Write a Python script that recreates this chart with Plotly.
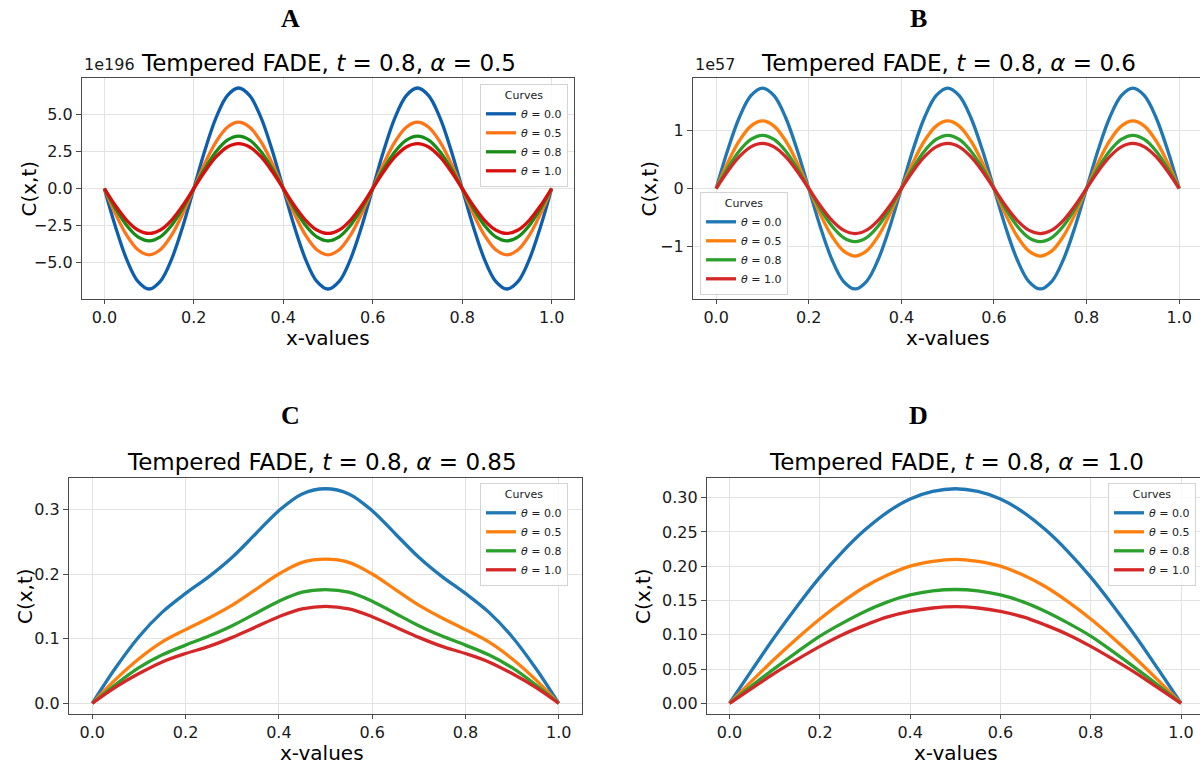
import plotly.graph_objects as go

W, H = 1200, 766

# x grids
X_SINE = [0.0, 0.025, 0.05, 0.075, 0.1, 0.125, 0.15, 0.175, 0.2, 0.225,
          0.25, 0.275, 0.3, 0.325, 0.35, 0.375, 0.4, 0.425, 0.45, 0.475,
          0.5, 0.525, 0.55, 0.575, 0.6, 0.625, 0.65, 0.675, 0.7, 0.725,
          0.75, 0.775, 0.8, 0.825, 0.85, 0.875, 0.9, 0.925, 0.95, 0.975, 1.0]
X_BUMP = [0.0, 0.05, 0.1, 0.15, 0.2, 0.25, 0.3, 0.35, 0.4, 0.45, 0.5,
          0.55, 0.6, 0.65, 0.7, 0.75, 0.8, 0.85, 0.9, 0.95, 1.0]

THETAS = ["0.0", "0.5", "0.8", "1.0"]

# Panel A: alpha = 0.5 (values in units of 1e196)
A_T00 = [0, -2.612, -4.822, -6.302, -6.82, -6.302, -4.822, -2.612,
         0, 2.612, 4.822, 6.302, 6.82, 6.302, 4.822, 2.612,
         0, -2.612, -4.822, -6.302, -6.82, -6.302, -4.822, -2.612,
         0, 2.612, 4.822, 6.302, 6.82, 6.302, 4.822, 2.612,
         0, -2.612, -4.822, -6.302, -6.82, -6.302, -4.822, -2.612, 0]
A_T05 = [0, -1.724, -3.182, -4.158, -4.50, -4.158, -3.182, -1.724,
         0, 1.724, 3.182, 4.158, 4.50, 4.158, 3.182, 1.724,
         0, -1.724, -3.182, -4.158, -4.50, -4.158, -3.182, -1.724,
         0, 1.724, 3.182, 4.158, 4.50, 4.158, 3.182, 1.724,
         0, -1.724, -3.182, -4.158, -4.50, -4.158, -3.182, -1.724, 0]
A_T08 = [0, -1.360, -2.510, -3.280, -3.55, -3.280, -2.510, -1.360,
         0, 1.360, 2.510, 3.280, 3.55, 3.280, 2.510, 1.360,
         0, -1.360, -2.510, -3.280, -3.55, -3.280, -2.510, -1.360,
         0, 1.360, 2.510, 3.280, 3.55, 3.280, 2.510, 1.360,
         0, -1.360, -2.510, -3.280, -3.55, -3.280, -2.510, -1.360, 0]
A_T10 = [0, -1.168, -2.156, -2.818, -3.05, -2.818, -2.156, -1.168,
         0, 1.168, 2.156, 2.818, 3.05, 2.818, 2.156, 1.168,
         0, -1.168, -2.156, -2.818, -3.05, -2.818, -2.156, -1.168,
         0, 1.168, 2.156, 2.818, 3.05, 2.818, 2.156, 1.168,
         0, -1.168, -2.156, -2.818, -3.05, -2.818, -2.156, -1.168, 0]

# Panel B: alpha = 0.6 (values in units of 1e57)
B_T00 = [0, 0.666, 1.230, 1.608, 1.74, 1.608, 1.230, 0.666,
         0, -0.666, -1.230, -1.608, -1.74, -1.608, -1.230, -0.666,
         0, 0.666, 1.230, 1.608, 1.74, 1.608, 1.230, 0.666,
         0, -0.666, -1.230, -1.608, -1.74, -1.608, -1.230, -0.666,
         0, 0.666, 1.230, 1.608, 1.74, 1.608, 1.230, 0.666, 0]
B_T05 = [0, 0.448, 0.827, 1.081, 1.17, 1.081, 0.827, 0.448,
         0, -0.448, -0.827, -1.081, -1.17, -1.081, -0.827, -0.448,
         0, 0.448, 0.827, 1.081, 1.17, 1.081, 0.827, 0.448,
         0, -0.448, -0.827, -1.081, -1.17, -1.081, -0.827, -0.448,
         0, 0.448, 0.827, 1.081, 1.17, 1.081, 0.827, 0.448, 0]
B_T08 = [0, 0.352, 0.650, 0.850, 0.92, 0.850, 0.650, 0.352,
         0, -0.352, -0.650, -0.850, -0.92, -0.850, -0.650, -0.352,
         0, 0.352, 0.650, 0.850, 0.92, 0.850, 0.650, 0.352,
         0, -0.352, -0.650, -0.850, -0.92, -0.850, -0.650, -0.352,
         0, 0.352, 0.650, 0.850, 0.92, 0.850, 0.650, 0.352, 0]
B_T10 = [0, 0.299, 0.551, 0.721, 0.78, 0.721, 0.551, 0.299,
         0, -0.299, -0.551, -0.721, -0.78, -0.721, -0.551, -0.299,
         0, 0.299, 0.551, 0.721, 0.78, 0.721, 0.551, 0.299,
         0, -0.299, -0.551, -0.721, -0.78, -0.721, -0.551, -0.299,
         0, 0.299, 0.551, 0.721, 0.78, 0.721, 0.551, 0.299, 0]

# Panel C: alpha = 0.85
C_T00 = [0, 0.055, 0.103, 0.141, 0.170, 0.196, 0.226, 0.262, 0.298, 0.324, 0.332,
         0.324, 0.298, 0.262, 0.226, 0.196, 0.170, 0.141, 0.103, 0.055, 0]
C_T05 = [0, 0.037, 0.069, 0.095, 0.114, 0.132, 0.152, 0.176, 0.200, 0.218, 0.223,
         0.218, 0.200, 0.176, 0.152, 0.132, 0.114, 0.095, 0.069, 0.037, 0]
C_T08 = [0, 0.029, 0.055, 0.075, 0.090, 0.104, 0.120, 0.139, 0.158, 0.172, 0.176,
         0.172, 0.158, 0.139, 0.120, 0.104, 0.090, 0.075, 0.055, 0.029, 0]
C_T10 = [0, 0.025, 0.046, 0.064, 0.077, 0.088, 0.102, 0.118, 0.134, 0.146, 0.150,
         0.146, 0.134, 0.118, 0.102, 0.088, 0.077, 0.064, 0.046, 0.025, 0]

# Panel D: alpha = 1.0
D_T00 = [0, 0.049, 0.097, 0.142, 0.184, 0.221, 0.253, 0.279, 0.298, 0.309, 0.313,
         0.309, 0.298, 0.279, 0.253, 0.221, 0.184, 0.142, 0.097, 0.049, 0]
D_T05 = [0, 0.033, 0.065, 0.095, 0.123, 0.148, 0.170, 0.187, 0.200, 0.207, 0.210,
         0.207, 0.200, 0.187, 0.170, 0.148, 0.123, 0.095, 0.065, 0.033, 0]
D_T08 = [0, 0.026, 0.051, 0.075, 0.098, 0.117, 0.134, 0.148, 0.158, 0.164, 0.166,
         0.164, 0.158, 0.148, 0.134, 0.117, 0.098, 0.075, 0.051, 0.026, 0]
D_T10 = [0, 0.022, 0.044, 0.064, 0.083, 0.100, 0.114, 0.126, 0.134, 0.139, 0.141,
         0.139, 0.134, 0.126, 0.114, 0.100, 0.083, 0.064, 0.044, 0.022, 0]

X_TICKS = [0.0, 0.2, 0.4, 0.6, 0.8, 1.0]
X_TICK_TEXT = ["0.0", "0.2", "0.4", "0.6", "0.8", "1.0"]

COLORS_A = ["#0d5fad", "#ff7418", "#178c17", "#d90f0f"]
COLORS_TAB = ["#1f77b4", "#ff7f0e", "#2ca02c", "#d62728"]

SANS = "DejaVu Sans"
SERIF = "Liberation Serif"
SPINE = "#4a4a4a"
GRID = "#e2e2e2"


def fx(p):
    return p / W


def fy(p):
    return 1 - p / H


panels = [
    dict(letter="A", n="", box=(82, 574, 78, 299), xr=[-0.05, 1.05], yr=[-7.5, 7.5],
         yt=[-5, -2.5, 0, 2.5, 5], ytt=["−5.0", "−2.5", "0.0", "2.5", "5.0"],
         x=X_SINE, ys=[A_T00, A_T05, A_T08, A_T10], colors=COLORS_A, mirror_y=True,
         title="Tempered FADE, <i>t</i> = 0.8, <i>α</i> = 0.5", expo="1e196",
         letter_pos=(290, 18), title_pos=(328, 63), ylab_x=28, xlab_y=338,
         leg=dict(x=fx(568), y=fy(84), xanchor="right", yanchor="top")),
    dict(letter="B", n="2", box=(693, 1200, 78, 299), xr=[-0.05, 1.045], yr=[-1.914, 1.914],
         yt=[-1, 0, 1], ytt=["−1", "0", "1"],
         x=X_SINE, ys=[B_T00, B_T05, B_T08, B_T10], colors=COLORS_TAB, mirror_y=False,
         title="Tempered FADE, <i>t</i> = 0.8, <i>α</i> = 0.6", expo="1e57",
         letter_pos=(918, 18), title_pos=(948, 63), ylab_x=648, xlab_y=338,
         leg=dict(x=fx(700), y=fy(295), xanchor="left", yanchor="bottom")),
    dict(letter="C", n="3", box=(69, 582, 478, 714), xr=[-0.05, 1.05], yr=[-0.0166, 0.3486],
         yt=[0.0, 0.1, 0.2, 0.3], ytt=["0.0", "0.1", "0.2", "0.3"],
         x=X_BUMP, ys=[C_T00, C_T05, C_T08, C_T10], colors=COLORS_TAB, mirror_y=True,
         title="Tempered FADE, <i>t</i> = 0.8, <i>α</i> = 0.85", expo="",
         letter_pos=(290, 415), title_pos=(322, 462), ylab_x=25, xlab_y=753,
         leg=dict(x=fx(568), y=fy(483), xanchor="right", yanchor="top")),
    dict(letter="D", n="4", box=(707, 1200, 478, 714), xr=[-0.05, 1.042], yr=[-0.01565, 0.32865],
         yt=[0.0, 0.05, 0.10, 0.15, 0.20, 0.25, 0.30],
         ytt=["0.00", "0.05", "0.10", "0.15", "0.20", "0.25", "0.30"],
         x=X_BUMP, ys=[D_T00, D_T05, D_T08, D_T10], colors=COLORS_TAB, mirror_y=False,
         title="Tempered FADE, <i>t</i> = 0.8, <i>α</i> = 1.0", expo="",
         letter_pos=(918, 415), title_pos=(956, 462), ylab_x=643, xlab_y=753,
         leg=dict(x=fx(1196), y=fy(483), xanchor="right", yanchor="top")),
]

fig = go.Figure()
annotations = []
layout = {}

for p in panels:
    n = p["n"]
    legend_name = "legend" + n
    for theta, yv, col in zip(THETAS, p["ys"], p["colors"]):
        fig.add_trace(go.Scatter(
            x=p["x"], y=yv, mode="lines",
            line=dict(color=col, width=3.3, shape="spline", smoothing=1.0),
            name=f"<i>θ</i> = {theta}",
            xaxis="x" + n, yaxis="y" + n, legend=legend_name,
            hoverinfo="skip",
        ))

    x0, x1, y0, y1 = p["box"]
    layout["xaxis" + n] = dict(
        domain=[fx(x0), fx(x1)], range=p["xr"], anchor="y" + n,
        tickvals=X_TICKS, ticktext=X_TICK_TEXT,
        showgrid=True, gridcolor=GRID, gridwidth=1, zeroline=False,
        showline=True, linecolor=SPINE, linewidth=1.3, mirror=True,
        ticks="outside", ticklen=4, tickwidth=1.2, tickcolor=SPINE,
        tickfont=dict(family=SANS, size=16, color="#1a1a1a"),
    )
    layout["yaxis" + n] = dict(
        domain=[fy(y1), fy(y0)], range=p["yr"], anchor="x" + n,
        tickvals=p["yt"], ticktext=p["ytt"],
        showgrid=True, gridcolor=GRID, gridwidth=1, zeroline=False,
        showline=True, linecolor=SPINE, linewidth=1.3, mirror=p["mirror_y"],
        ticks="outside", ticklen=5, tickwidth=1.2, tickcolor=SPINE,
        tickfont=dict(family=SANS, size=16, color="#1a1a1a"),
    )
    layout[legend_name] = dict(
        **p["leg"],
        xref="paper", yref="paper",
        title=dict(text="Curves", side="top center",
                   font=dict(family=SANS, size=11, color="#222")),
        font=dict(family=SANS, size=11, color="#222"),
        bgcolor="rgba(255,255,255,0.85)", bordercolor="#d3d3d3", borderwidth=1,
        itemwidth=30, tracegroupgap=0,
    )

    lx, ly = p["letter_pos"]
    annotations.append(dict(
        text=f"<b>{p['letter']}</b>", x=fx(lx), y=fy(ly), xref="paper", yref="paper",
        showarrow=False, xanchor="center", yanchor="middle",
        font=dict(family=SERIF, size=26, color="#000"),
    ))
    tx, ty = p["title_pos"]
    annotations.append(dict(
        text=p["title"], x=fx(tx), y=fy(ty), xref="paper", yref="paper",
        showarrow=False, xanchor="center", yanchor="middle",
        font=dict(family=SANS, size=23, color="#000"),
    ))
    if p["expo"]:
        annotations.append(dict(
            text=p["expo"], x=fx(x0), y=fy(y0 - 2), xref="paper", yref="paper",
            showarrow=False, xanchor="left", yanchor="bottom",
            font=dict(family=SANS, size=16, color="#1a1a1a"),
        ))
    annotations.append(dict(
        text="C(x,t)", x=fx(p["ylab_x"]), y=fy((y0 + y1) / 2), xref="paper", yref="paper",
        showarrow=False, xanchor="center", yanchor="middle", textangle=-90,
        font=dict(family=SANS, size=20, color="#000"),
    ))
    annotations.append(dict(
        text="x-values", x=fx(tx), y=fy(p["xlab_y"]), xref="paper", yref="paper",
        showarrow=False, xanchor="center", yanchor="middle",
        font=dict(family=SANS, size=20, color="#000"),
    ))

fig.update_layout(
    width=W, height=H,
    margin=dict(l=0, r=0, t=0, b=0),
    paper_bgcolor="white", plot_bgcolor="white",
    showlegend=True,
    annotations=annotations,
    **layout,
)

fig.write_html("out.html")
